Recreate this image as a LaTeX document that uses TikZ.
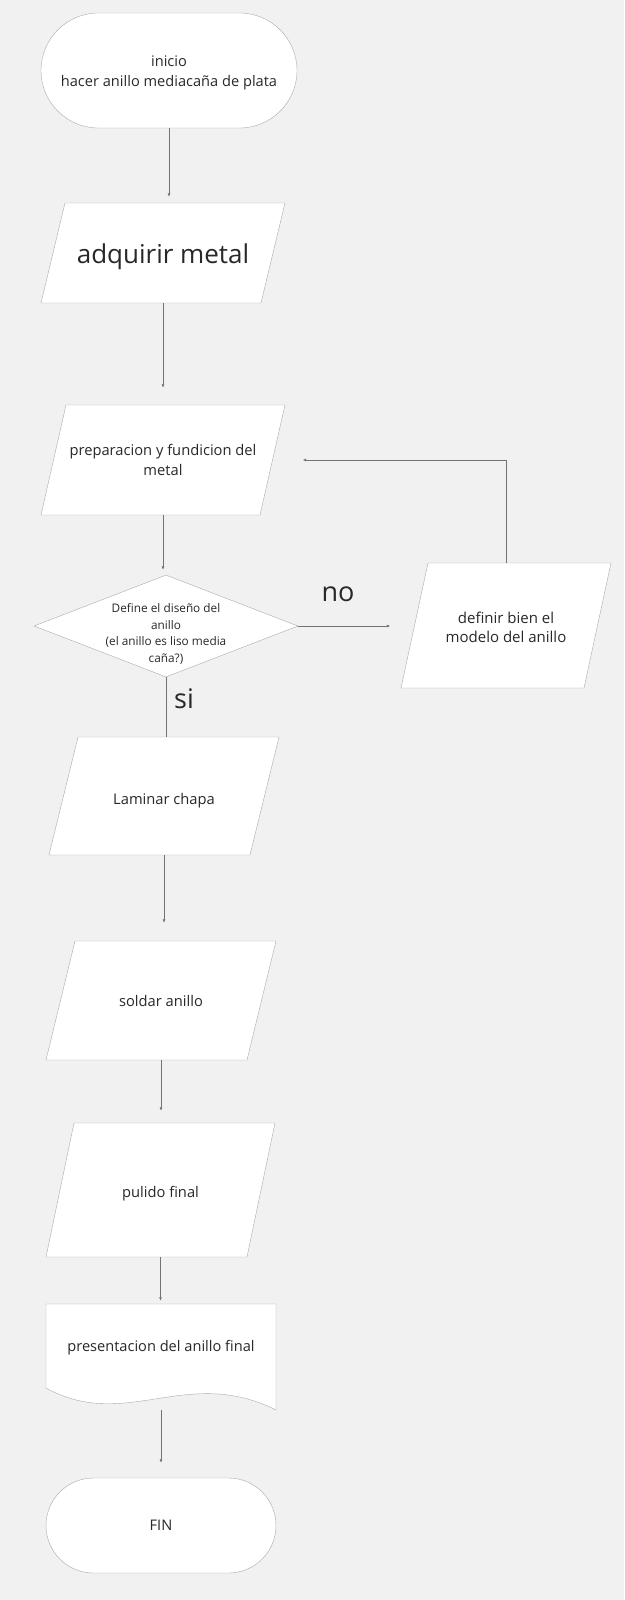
\documentclass[tikz,border=0pt]{standalone}
\usepackage{fontspec}
\setmainfont{Open Sans}
\usetikzlibrary{shapes.geometric, shapes.misc, calc, arrows.meta}
\definecolor{bgGray}{RGB}{241,241,241}
\definecolor{edgeGray}{RGB}{170,170,170}
\definecolor{lineGray}{RGB}{115,115,115}
\definecolor{txtGray}{RGB}{40,40,40}
\tikzset{
    termBox/.style={rounded rectangle, draw=edgeGray, fill=white, text=txtGray, align=center, inner sep=0pt, font=\fontsize{14.6}{20}\selectfont},
    procLine/.style={draw=edgeGray, fill=white, line join=round},
    procText/.style={rectangle, text=txtGray, align=center, inner sep=0pt, font=\fontsize{14.7}{20}\selectfont},
    decBox/.style={diamond, aspect=2.59, draw=edgeGray, fill=white, text=txtGray, align=center, inner sep=-8pt, font=\fontsize{11.8}{16.6}\selectfont},
    docLine/.style={draw=edgeGray, fill=white},
    docText/.style={rectangle, text=txtGray, align=center, inner sep=0pt, font=\fontsize{14.6}{20}\selectfont},
    bigLabel/.style={text=txtGray, inner sep=0pt, font=\fontsize{27}{32}\selectfont},
    flowArrow/.style={draw=lineGray, line width=0.8pt, -{Latex[length=3.5pt, width=3pt]}},
    flowLine/.style={draw=lineGray, line width=0.8pt},
}
% paralelogramo: nombre, x, y, ancho, alto, inclinacion, texto
\newcommand{\procNode}[8][]{
    \filldraw[procLine] (#3-#5/2+#7, #4-#6/2) -- (#3+#5/2, #4-#6/2) -- (#3+#5/2-#7, #4+#6/2) -- (#3-#5/2, #4+#6/2) -- cycle;
    \node[procText, minimum width=#5-#7, minimum height=#6, #1] (#2) at (#3,#4) {#8};
}
\newcommand{\drawFlow}[3][0pt]{
    \draw[flowArrow, shorten >=#1] (#2.south) -- (#2.south |- #3.north);
}
% baja el texto dentro del nodo
\newcommand{\topStrut}[1]{\rule{0pt}{#1pt}}

\begin{document}
\begin{tikzpicture}[x=1pt, y=-1pt]
    \fill[bgGray] (0,0) rectangle (624,1600);
    \useasboundingbox (0,0) rectangle (624,1600);

    % inicio
    \node[termBox, minimum width=256, minimum height=115] (ini) at (169,70.5) {\topStrut{15}inicio\\hacer anillo mediacaña de plata};

    % procesos
    \procNode[font=\fontsize{26}{30}\selectfont]{adq}{163}{253}{244}{100}{24}{\topStrut{28}adquirir metal}
    \procNode{prep}{163}{460}{244}{110}{25}{preparacion y fundicion del\\metal}

    % decision
    \node[decBox, minimum width=264, minimum height=102] (dec) at (166,626) {\topStrut{25}Define el diseño del\\anillo\\(el anillo es liso media\\caña?)};
    \procNode[font=\fontsize{15}{19}\selectfont]{def}{506}{625.5}{210}{125}{27}{\topStrut{16}definir bien el\\modelo del anillo}

    \procNode{lam}{164}{796}{230}{118}{29}{\topStrut{21}Laminar chapa}
    \procNode{sol}{161}{1000.5}{230}{119}{29}{soldar anillo}
    \procNode{pul}{160.5}{1190}{229}{134}{28}{\topStrut{19}pulido final}

    % documento
    \filldraw[docLine] (46,1304) -- (276,1304) -- (276,1410)
        .. controls (186,1365) and (126,1432) .. (46,1388) -- cycle;
    \node[docText, minimum width=230, minimum height=106, text depth=23pt] (pres) at (161,1357) {presentacion del anillo final};

    % fin
    \node[termBox, minimum width=230, minimum height=95] (fin) at (161,1525.5) {FIN};

    % etiquetas
    \node[bigLabel] (no) at (338,594) {no};
    \node[bigLabel] (si) at (184,699) {si};

    % conectores
    \drawFlow[6pt]{ini}{adq}
    \drawFlow[17pt]{adq}{prep}
    \drawFlow[5pt]{prep}{dec}
    \draw[flowArrow, shorten >=24pt] (dec.east) -- (dec.east -| def.west);
    \draw[flowArrow, shorten >=30pt] (def.north) |- (prep.east);
    \draw[flowLine] (dec.south) -- (dec.south |- lam.north);
    \drawFlow[18pt]{lam}{sol}
    \drawFlow[12pt]{sol}{pul}
    \drawFlow[3pt]{pul}{pres}
    \drawFlow[15pt]{pres}{fin}
\end{tikzpicture}
\end{document}
